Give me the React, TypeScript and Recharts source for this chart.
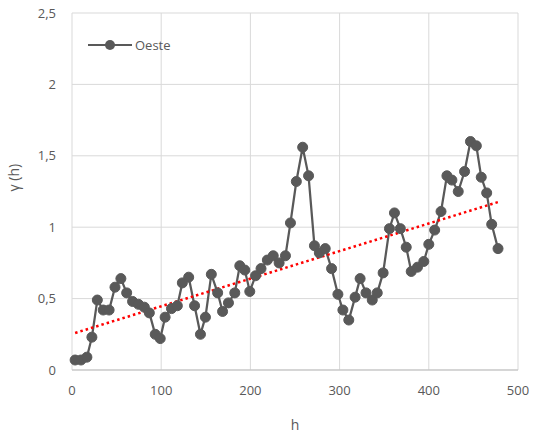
import { LineChart, Line, XAxis, YAxis, CartesianGrid, Label } from "recharts";

const lags = [
  3.5, 10.1, 16.7, 22.3, 28.4, 35, 41.6, 48.2, 54.8, 61.3, 67.9, 74.5, 81.1, 86.7, 93.3,
  98.9, 104.4, 111.5, 118.1, 123.7, 130.8, 137.4, 144, 149.6, 156.2, 163.3, 168.8, 175.4,
  182.5, 188.1, 193.7, 199.3, 205.8, 211.9, 219, 225.6, 232.2, 239.3, 244.9, 251.5, 258.6,
  265.2, 271.8, 277.3, 283.9, 291, 298.1, 303.7, 310.3, 317.4, 323, 329.6, 336.6, 342.2,
  348.8, 355.9, 361.5, 368.1, 374.7, 380.3, 387.3, 394.4, 400, 406.6, 413.7, 420.3, 425.9,
  433, 440.1, 446.7, 453.3, 458.8, 464.9, 470.5, 477.6,
];

const oeste = [
  0.07, 0.07, 0.09, 0.23, 0.49, 0.42, 0.42, 0.58, 0.64, 0.54, 0.48, 0.46, 0.44, 0.4, 0.25,
  0.22, 0.37, 0.43, 0.45, 0.61, 0.65, 0.45, 0.25, 0.37, 0.67, 0.54, 0.41, 0.47, 0.54, 0.73,
  0.7, 0.55, 0.66, 0.71, 0.77, 0.8, 0.75, 0.8, 1.03, 1.32, 1.56, 1.36, 0.87, 0.82, 0.85,
  0.71, 0.53, 0.42, 0.35, 0.51, 0.64, 0.54, 0.49, 0.54, 0.68, 0.99, 1.1, 0.99, 0.86, 0.69,
  0.72, 0.76, 0.88, 0.98, 1.11, 1.36, 1.33, 1.25, 1.39, 1.6, 1.57, 1.35, 1.24, 1.02, 0.85,
];

const xTicks = [0, 100, 200, 300, 400, 500];
const yTicks = [0, 0.5, 1, 1.5, 2, 2.5];

const data = lags.map((h, i) => ({ h, v: oeste[i] }));

// linear trendline (least squares), like Excel's
const n = data.length;
const mx = lags.reduce((a, b) => a + b, 0) / n;
const my = oeste.reduce((a, b) => a + b, 0) / n;
let sxy = 0;
let sxx = 0;
data.forEach((d) => {
  sxy += (d.h - mx) * (d.v - my);
  sxx += (d.h - mx) * (d.h - mx);
});
const slope = sxy / sxx;
const icpt = my - slope * mx;
const trend = [lags[0], lags[n - 1]].map((h) => ({ h, t: icpt + slope * h }));

const font = "Open Sans, sans-serif";
const grey = "#595959";

function LegendBox() {
  return (
    <div
      style={{
        position: "absolute",
        left: 88,
        top: 36,
        display: "flex",
        alignItems: "center",
        fontFamily: font,
        fontSize: 13,
        color: grey,
      }}
    >
      <svg width={44} height={12}>
        <line x1={0} y1={6} x2={44} y2={6} stroke={grey} strokeWidth={2} />
        <circle cx={22} cy={6} r={5} fill={grey} />
      </svg>
      <span style={{ marginLeft: 3 }}>Oeste</span>
    </div>
  );
}

export default function App() {
  return (
    <div style={{ position: "absolute", left: 0, top: 0, width: 535, height: 434 }}>
      <LineChart width={535} height={434} margin={{ top: 13, right: 17, left: 0, bottom: 0 }}>
        <CartesianGrid stroke="#d9d9d9" strokeWidth={1} />
        <XAxis
          type="number"
          dataKey="h"
          domain={[0, 500]}
          ticks={xTicks}
          height={64}
          tickLine={false}
          axisLine={{ stroke: "#bfbfbf" }}
          tick={{ fill: grey, fontSize: 13, fontFamily: font }}
          tickMargin={10}
          allowDuplicatedCategory={false}
        >
          <Label value="h" position="insideBottom" offset={4} fill={grey} fontSize={14} fontFamily={font} />
        </XAxis>
        <YAxis
          type="number"
          domain={[0, 2.5]}
          ticks={yTicks}
          width={72}
          tickLine={false}
          axisLine={false}
          tick={{ fill: grey, fontSize: 13, fontFamily: font }}
          tickFormatter={(v: number) => String(v).replace(".", ",")}
          tickMargin={10}
        >
          <Label value="γ (h)" angle={-90} position="insideLeft" offset={14} fill={grey} fontSize={14} fontFamily={font} />
        </YAxis>
        <Line
          data={data}
          dataKey="v"
          name="Oeste"
          stroke={grey}
          strokeWidth={2.25}
          dot={{ r: 5, fill: grey, stroke: grey, strokeWidth: 1 }}
          isAnimationActive={false}
        />
        <Line
          data={trend}
          dataKey="t"
          legendType="none"
          stroke="#ff0000"
          strokeWidth={2.5}
          strokeDasharray="2.5 3"
          dot={false}
          isAnimationActive={false}
        />
      </LineChart>
      <LegendBox />
    </div>
  );
}
